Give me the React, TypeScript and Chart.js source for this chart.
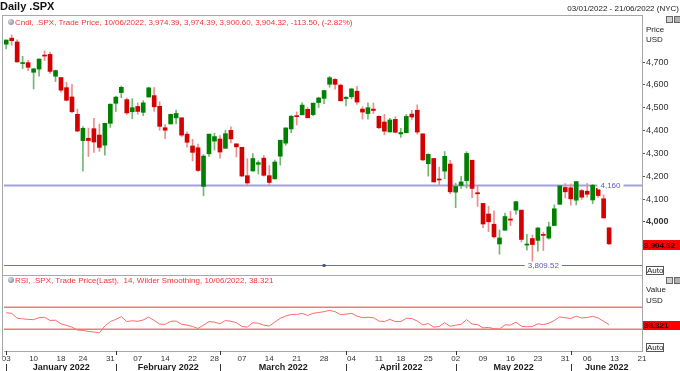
import React, { useEffect, useRef } from "react";
import { Chart, registerables } from "chart.js";

Chart.register(...registerables);

const FONT = "'Liberation Sans', Arial, Helvetica, sans-serif";

// ---- data -----------------------------------------------------------
const days = [
  "2022-01-03","2022-01-04","2022-01-05","2022-01-06","2022-01-07","2022-01-10","2022-01-11","2022-01-12","2022-01-13","2022-01-14",
  "2022-01-18","2022-01-19","2022-01-20","2022-01-21","2022-01-24","2022-01-25","2022-01-26","2022-01-27","2022-01-28","2022-01-31",
  "2022-02-01","2022-02-02","2022-02-03","2022-02-04","2022-02-07","2022-02-08","2022-02-09","2022-02-10","2022-02-11","2022-02-14",
  "2022-02-15","2022-02-16","2022-02-17","2022-02-18","2022-02-22","2022-02-23","2022-02-24","2022-02-25","2022-02-28","2022-03-01",
  "2022-03-02","2022-03-03","2022-03-04","2022-03-07","2022-03-08","2022-03-09","2022-03-10","2022-03-11","2022-03-14","2022-03-15",
  "2022-03-16","2022-03-17","2022-03-18","2022-03-21","2022-03-22","2022-03-23","2022-03-24","2022-03-25","2022-03-28","2022-03-29",
  "2022-03-30","2022-03-31","2022-04-01","2022-04-04","2022-04-05","2022-04-06","2022-04-07","2022-04-08","2022-04-11","2022-04-12",
  "2022-04-13","2022-04-14","2022-04-18","2022-04-19","2022-04-20","2022-04-21","2022-04-22","2022-04-25","2022-04-26","2022-04-27",
  "2022-04-28","2022-04-29","2022-05-02","2022-05-03","2022-05-04","2022-05-05","2022-05-06","2022-05-09","2022-05-10","2022-05-11",
  "2022-05-12","2022-05-13","2022-05-16","2022-05-17","2022-05-18","2022-05-19","2022-05-20","2022-05-23","2022-05-24","2022-05-25",
  "2022-05-26","2022-05-27","2022-05-31","2022-06-01","2022-06-02","2022-06-03","2022-06-06","2022-06-07","2022-06-08","2022-06-09",
  "2022-06-10",
];

const opens = [
  4778.14,4804.51,4787.99,4693.39,4697.66,4655.34,4669.14,4728.59,4733.56,4637.99,
  4632.24,4588.03,4547.35,4471.38,4356.32,4366.64,4408.43,4380.58,4336.19,4431.79,
  4519.57,4566.39,4535.41,4482.79,4505.75,4480.02,4547.00,4553.24,4506.27,4412.61,
  4429.28,4455.75,4456.06,4384.57,4332.74,4324.93,4155.77,4298.38,4354.17,4363.14,
  4322.56,4401.31,4342.12,4327.01,4202.66,4223.10,4252.55,4279.50,4202.75,4188.82,
  4288.14,4345.11,4407.34,4462.40,4469.10,4493.10,4469.98,4522.91,4541.09,4602.86,
  4624.20,4599.02,4540.32,4547.97,4572.45,4494.17,4474.65,4494.15,4462.64,4437.59,
  4394.30,4449.12,4385.63,4390.63,4472.26,4489.17,4385.83,4255.34,4278.14,4186.52,
  4222.58,4253.75,4130.61,4159.78,4181.18,4270.43,4128.17,4081.27,4035.18,3990.08,
  3903.95,3963.90,4013.02,4052.00,4051.98,3899.00,3927.76,3919.42,3942.94,3929.59,
  3984.60,4077.43,4151.09,4149.78,4095.41,4137.57,4134.72,4096.47,4147.12,4101.65,
  3974.39,
];
const highs = [
  4796.64,4818.62,4797.70,4725.01,4707.95,4673.02,4714.13,4748.83,4744.13,4665.13,
  4632.24,4611.55,4602.11,4494.52,4417.35,4411.01,4453.23,4428.74,4432.72,4516.89,
  4550.49,4595.31,4542.88,4539.66,4521.86,4531.32,4590.03,4588.92,4526.33,4426.22,
  4472.77,4489.55,4456.06,4394.60,4362.12,4341.51,4294.73,4385.34,4388.84,4378.45,
  4401.48,4416.78,4342.12,4327.01,4276.94,4299.40,4268.28,4291.01,4247.57,4271.05,
  4357.86,4412.67,4465.40,4481.75,4522.00,4501.07,4520.58,4546.03,4575.65,4637.30,
  4627.77,4603.07,4548.70,4583.50,4593.45,4503.94,4521.16,4520.41,4464.35,4471.00,
  4453.92,4460.46,4410.31,4471.03,4488.29,4512.94,4385.83,4299.02,4278.14,4240.71,
  4308.45,4269.68,4169.81,4200.10,4307.66,4270.43,4157.69,4081.27,4068.82,4049.09,
  3964.80,4038.88,4046.46,4090.72,4051.98,3945.96,3943.42,3975.45,3955.68,3999.33,
  4075.14,4158.49,4168.34,4166.54,4177.51,4142.67,4168.78,4164.86,4160.14,4119.10,
  3974.39,
];
const lows = [
  4758.17,4774.27,4699.44,4671.26,4662.74,4582.24,4638.27,4706.71,4650.29,4614.75,
  4568.70,4530.20,4477.95,4395.34,4222.62,4287.11,4304.80,4309.50,4292.46,4414.02,
  4483.53,4544.32,4470.39,4451.50,4471.47,4465.40,4547.00,4484.31,4401.41,4364.84,
  4429.28,4429.68,4373.81,4327.22,4267.11,4221.51,4114.65,4286.83,4315.12,4279.54,
  4322.56,4345.56,4284.98,4199.85,4157.87,4223.10,4209.80,4200.49,4161.72,4187.90,
  4248.53,4335.65,4390.57,4424.30,4469.10,4455.81,4465.17,4501.07,4517.69,4589.66,
  4581.32,4530.41,4507.57,4539.21,4514.17,4450.04,4450.30,4474.60,4408.38,4381.34,
  4392.70,4390.77,4370.30,4390.63,4448.76,4384.47,4267.62,4200.82,4175.04,4162.90,
  4188.63,4124.28,4062.51,4147.08,4148.91,4106.01,4067.91,3975.48,3958.17,3928.82,
  3858.87,3963.90,3983.99,4033.93,3911.91,3876.58,3810.32,3872.62,3875.13,3925.03,
  3984.60,4077.43,4104.88,4073.85,4074.37,4098.67,4109.18,4080.19,4107.20,4017.17,
  3900.60,
];
const closes = [
  4796.56,4793.54,4700.58,4696.05,4677.03,4670.29,4713.07,4726.35,4659.03,4662.85,
  4577.11,4532.76,4482.73,4397.94,4410.13,4356.45,4349.93,4326.51,4431.85,4515.55,
  4546.54,4589.38,4477.44,4500.53,4483.87,4521.54,4587.18,4504.08,4418.64,4401.67,
  4471.07,4475.01,4380.26,4348.87,4304.76,4225.50,4288.70,4384.65,4373.94,4306.26,
  4386.54,4363.49,4328.87,4201.09,4170.70,4277.88,4259.52,4204.31,4173.11,4262.45,
  4357.86,4411.67,4463.12,4461.18,4511.61,4456.24,4520.16,4543.06,4575.52,4631.60,
  4602.45,4530.41,4545.86,4582.64,4525.12,4481.15,4500.21,4488.28,4412.53,4397.45,
  4446.59,4392.59,4391.69,4462.21,4459.45,4393.66,4271.78,4296.12,4175.20,4183.96,
  4287.50,4131.93,4155.38,4175.48,4300.17,4146.87,4123.34,3991.24,4001.05,3935.18,
  3930.08,4023.89,4008.01,4088.85,3923.68,3900.79,3901.36,3973.75,3941.48,3978.73,
  4057.84,4158.24,4132.15,4101.23,4176.82,4108.54,4121.43,4160.68,4115.77,4017.82,
  3904.32,
];

// RSI(14, Wilder)
const rsi = [
  60,59,50,49,48,47.5,51,52,46,46.5,
  40,37,34,28.5,28,26,25,23.5,36,44,
  48,53,44,45.5,44.5,47,52,46,39.5,39,
  44.5,45,39,37.5,35,31.5,37.5,44,43,40,
  46,44.5,42,35,34,42,41,37.5,36,43,
  50,54,57,57,59,55,59,60.5,62,64.5,
  62,56.5,57.5,59,54,51,52,51,45,44,
  48,44,44,50,49.5,45,38,40.5,34,35,
  42,35.5,37.5,39,47.5,39.5,38.5,32.5,33.5,31,
  30.5,38,37.5,43,35.5,34.5,35,40,38.5,41,
  46,52.5,51,49.5,54,50.5,51.5,53.5,50.5,44.5,
  38.321,
];

const tickIdx = [0,5,10,14,19,24,29,34,38,43,48,53,58,63,68,72,77,82,87,92,97,102,106,111,116];
const tickLabels = ["03","10","18","24","31","07","14","22","28","07","14","21","28","04","11","18","25","02","09","16","23","31","06","13","21"];
const monthStarts = [0,20,39,62,82,103];
const monthNames = ["January 2022","February 2022","March 2022","April 2022","May 2022","June 2022"];
const priceTicks = [4000,4100,4200,4300,4400,4500,4600,4700];

const resistanceLevel = 4160;
const lowLevel = 3809.52;
const lowLevelAnchor = 58;
const rsiUpper = 70;
const rsiLower = 30;
const lastClose = 3904.32;
const lastRsi = 38.321;

// ---- layout / style constants ----------------------------------------
const X_MIN = -0.4;
const X_MAX = 116;
const Y_MIN = 3768;
const Y_MAX = 4906;
const R_MIN = -9.5;
const R_MAX = 128.7;

const UP = "#008000";
const DOWN = "#d40000";
const UP_WICK = "#72b872";
const DOWN_WICK = "#f08c8c";
const FRAME = "#a8a8a8";
const LEVEL_TEXT = "#5858c8";

const fmtPrice = (v: number, d = 0) =>
  v.toLocaleString("en-US", { minimumFractionDigits: d, maximumFractionDigits: d });

const decorPlugin = {
  id: "decor",
  afterDraw(chart: any) {
    const { ctx, chartArea: ca, scales } = chart;
    const xs = scales.x;
    const ys = scales.y;
    const yr = scales.yR;
    ctx.save();

    // frames
    ctx.strokeStyle = FRAME;
    ctx.lineWidth = 1;
    ctx.beginPath();
    ctx.moveTo(2, ca.top + 0.5);
    ctx.lineTo(ca.right, ca.top + 0.5);
    ctx.moveTo(2.5, ca.top);
    ctx.lineTo(2.5, 360);
    ctx.moveTo(2, ys.bottom + 0.5);
    ctx.lineTo(ca.right, ys.bottom + 0.5);
    ctx.stroke();

    // level labels
    const levelLabel = (text: string, cx: number, cy: number) => {
      ctx.font = `8px ${FONT}`;
      const w = ctx.measureText(text).width;
      ctx.fillStyle = "#ffffff";
      ctx.fillRect(cx - w / 2 - 3, cy - 4, w + 6, 8);
      ctx.fillStyle = LEVEL_TEXT;
      ctx.textAlign = "center";
      ctx.textBaseline = "middle";
      ctx.fillText(text, cx, cy + 0.5);
    };
    levelLabel(fmtPrice(resistanceLevel), ca.right - 31.5, ys.getPixelForValue(resistanceLevel));
    levelLabel(fmtPrice(lowLevel, 2), xs.getPixelForValue(98), ys.getPixelForValue(lowLevel));

    // last value boxes on the right axis
    const valueBox = (text: string, cy: number, h: number) => {
      const top = Math.round(cy - h / 2);
      ctx.fillStyle = "#ff0000";
      ctx.fillRect(ca.right + 1, top, 680 - ca.right - 1, h);
      ctx.fillStyle = "#1a0000";
      ctx.font = `bold 8px ${FONT}`;
      ctx.textAlign = "left";
      ctx.textBaseline = "middle";
      ctx.fillText(text, ca.right + 2, top + h / 2 + 0.5);
    };
    valueBox(fmtPrice(lastClose, 2), ys.getPixelForValue(lastClose) + 1, 10);
    valueBox(String(lastRsi), yr.getPixelForValue(lastRsi) + 0.5, 9);

    // month separators and labels
    ctx.strokeStyle = "#333";
    ctx.lineWidth = 1;
    ctx.font = `bold 9px ${FONT}`;
    ctx.fillStyle = "#1a1a1a";
    ctx.textAlign = "center";
    ctx.textBaseline = "middle";
    for (let m = 0; m < monthStarts.length; m++) {
      const s = Math.round(xs.getPixelForValue(monthStarts[m])) + 0.5;
      const e = m + 1 < monthStarts.length ? xs.getPixelForValue(monthStarts[m + 1]) : ca.right;
      ctx.beginPath();
      ctx.moveTo(s, ca.bottom);
      ctx.lineTo(s, ca.bottom + 4);
      ctx.moveTo(s, 364);
      ctx.lineTo(s, 371);
      ctx.stroke();
      ctx.fillText(monthNames[m], (s + e) / 2, 367.5);
    }
    ctx.restore();
  },
};

export default function App() {
  const ref = useRef<HTMLCanvasElement>(null);

  useEffect(() => {
    const canvas = ref.current;
    if (!canvas) return;
    Chart.defaults.font.family = FONT;
    const idx = days.map((_, i) => i);
    const isUp = (i: number) => closes[i] >= opens[i];

    const chart = new Chart(canvas, {
      type: "bar",
      data: {
        datasets: [
          {
            type: "bar",
            label: "body",
            data: idx.map((i) => ({ x: i, y: [opens[i], closes[i]] })) as any,
            backgroundColor: idx.map((i) => (isUp(i) ? UP : DOWN)),
            barThickness: 4,
            grouped: false,
            minBarLength: 1,
            xAxisID: "x",
            yAxisID: "y",
            order: 1,
          } as any,
          {
            type: "bar",
            label: "wick",
            data: idx.map((i) => ({ x: i, y: [lows[i], highs[i]] })) as any,
            backgroundColor: idx.map((i) => (isUp(i) ? UP_WICK : DOWN_WICK)),
            barThickness: 1,
            grouped: false,
            xAxisID: "x",
            yAxisID: "y",
            order: 2,
          } as any,
          {
            type: "line",
            label: "resistance",
            data: [{ x: X_MIN, y: resistanceLevel }, { x: X_MAX, y: resistanceLevel }],
            borderColor: "#a0a0e2",
            borderWidth: 2,
            pointRadius: 0,
            xAxisID: "x",
            yAxisID: "y",
            order: 3,
          } as any,
          {
            type: "line",
            label: "low",
            data: [{ x: X_MIN, y: lowLevel }, { x: X_MAX, y: lowLevel }],
            borderColor: "#6c6cd0",
            borderWidth: 1,
            pointRadius: 0,
            xAxisID: "x",
            yAxisID: "y",
            order: 3,
          } as any,
          {
            type: "line",
            label: "anchor",
            data: [{ x: lowLevelAnchor, y: lowLevel }],
            showLine: false,
            pointStyle: "rect",
            pointRadius: 2,
            pointBackgroundColor: "#4848a8",
            pointBorderWidth: 0,
            xAxisID: "x",
            yAxisID: "y",
            order: 0,
          } as any,
          {
            type: "line",
            label: "rsi70",
            data: [{ x: X_MIN, y: rsiUpper }, { x: X_MAX, y: rsiUpper }],
            borderColor: "#f07a7a",
            borderWidth: 1.5,
            pointRadius: 0,
            xAxisID: "x",
            yAxisID: "yR",
            order: 3,
          } as any,
          {
            type: "line",
            label: "rsi30",
            data: [{ x: X_MIN, y: rsiLower }, { x: X_MAX, y: rsiLower }],
            borderColor: "#f07a7a",
            borderWidth: 1.5,
            pointRadius: 0,
            xAxisID: "x",
            yAxisID: "yR",
            order: 3,
          } as any,
          {
            type: "line",
            label: "RSI",
            data: idx.map((i) => ({ x: i, y: rsi[i] })),
            borderColor: "#ff6a6a",
            borderWidth: 1,
            pointRadius: 0,
            tension: 0,
            xAxisID: "x",
            yAxisID: "yR",
            order: 1,
          } as any,
        ],
      },
      options: {
        responsive: false,
        animation: false,
        events: [],
        layout: { padding: { left: 3, top: 15, right: 0, bottom: 0 } },
        plugins: { legend: { display: false }, tooltip: { enabled: false } },
        scales: {
          x: {
            type: "linear",
            position: "bottom",
            offset: false,
            min: X_MIN,
            max: X_MAX,
            grid: { display: false, drawTicks: false, offset: false },
            border: { display: true, color: FRAME },
            ticks: {
              autoSkip: false,
              maxRotation: 0,
              padding: 3,
              color: "#333",
              font: { family: FONT, size: 8 },
              callback: (v: any) => {
                const k = tickIdx.indexOf(Number(v));
                return k >= 0 ? tickLabels[k] : "";
              },
            },
            afterBuildTicks: (s: any) => {
              s.ticks = tickIdx.map((v) => ({ value: v }));
            },
            afterFit: (s: any) => {
              s.height = 20;
              s.paddingLeft = 0;
              s.paddingRight = 0;
            },
          },
          y: {
            type: "linear",
            position: "right",
            stack: "panels",
            stackWeight: 260,
            min: Y_MIN,
            max: Y_MAX,
            grid: { drawOnChartArea: false, drawTicks: true, tickLength: 3, color: "#555" },
            border: { display: true, color: FRAME },
            ticks: {
              padding: 1,
              color: "#333",
              font: (c: any) => ({
                family: FONT,
                size: 9,
                weight: c.tick && c.tick.value === 4000 ? "bold" : "normal",
              }),
              callback: (v: any) => fmtPrice(Number(v)),
            },
            afterBuildTicks: (s: any) => {
              s.ticks = priceTicks.map((v) => ({ value: v }));
            },
            afterFit: (s: any) => {
              s.width = 38;
              s.paddingTop = 0;
              s.paddingBottom = 0;
            },
          },
          yR: {
            type: "linear",
            position: "right",
            stack: "panels",
            stackWeight: 76,
            min: R_MIN,
            max: R_MAX,
            grid: { display: false },
            border: { display: true, color: FRAME },
            ticks: { display: false },
            afterFit: (s: any) => {
              s.width = 38;
              s.paddingTop = 0;
              s.paddingBottom = 0;
            },
          },
        },
      } as any,
      plugins: [decorPlugin],
    });
    return () => chart.destroy();
  }, []);

  const text = (content: string, style: React.CSSProperties) => (
    <div
      style={{
        position: "absolute",
        whiteSpace: "pre",
        fontFamily: FONT,
        lineHeight: 1,
        ...style,
      }}
    >
      {content}
    </div>
  );

  const icon = (left: number, top: number) => (
    <div
      style={{
        position: "absolute",
        left,
        top,
        width: 6,
        height: 6,
        borderRadius: "50%",
        background: "radial-gradient(circle at 35% 35%, #d8dde6, #6f7c90)",
      }}
    />
  );

  const winButtons = (left: number, top: number) => (
    <div style={{ position: "absolute", left, top, display: "flex", gap: 1 }}>
      <div style={{ width: 5, height: 5, border: "1px solid #666", background: "#d0d0d0" }} />
      <div style={{ width: 5, height: 5, border: "1px solid #666", background: "#b0b0b0" }} />
    </div>
  );

  const autoBox = (left: number, top: number) => (
    <div
      style={{
        position: "absolute",
        left,
        top,
        width: 16,
        height: 7,
        border: "1px solid #555",
        fontFamily: FONT,
        fontSize: 8,
        lineHeight: "7px",
        color: "#222",
        textAlign: "center",
        background: "#fff",
      }}
    >
      Auto
    </div>
  );

  return (
    <div
      style={{
        position: "fixed",
        left: 0,
        top: 0,
        width: 680,
        height: 371,
        background: "#ffffff",
        overflow: "hidden",
      }}
    >
      <canvas ref={ref} width={680} height={371} style={{ position: "absolute", left: 0, top: 0, display: "block" }} />
      {text("Daily .SPX", { left: 0, top: 1, fontSize: 11, fontWeight: "bold", color: "#111" })}
      {text("03/01/2022 - 21/06/2022 (NYC)", { right: 1, top: 5, fontSize: 8, color: "#222" })}
      {icon(8, 19)}
      {text("Cndl, .SPX, Trade Price, 10/06/2022, 3,974.39, 3,974.39, 3,900.60, 3,904.32, -113.50, (-2.82%)", {
        left: 15,
        top: 19,
        fontSize: 8,
        color: "#f03434",
      })}
      {winButtons(666, 16)}
      {text("Price", { left: 646, top: 26, fontSize: 8, color: "#222" })}
      {text("USD", { left: 646, top: 36, fontSize: 8, color: "#222" })}
      {autoBox(646, 266)}
      {icon(8, 277)}
      {text("RSI, .SPX, Trade Price(Last),  14, Wilder Smoothing, 10/06/2022, 38.321", {
        left: 15,
        top: 277,
        fontSize: 8,
        color: "#f03434",
      })}
      {winButtons(666, 277)}
      {text("Value", { left: 646, top: 286, fontSize: 8, color: "#222" })}
      {text("USD", { left: 646, top: 297, fontSize: 8, color: "#222" })}
      {autoBox(646, 343)}
    </div>
  );
}
